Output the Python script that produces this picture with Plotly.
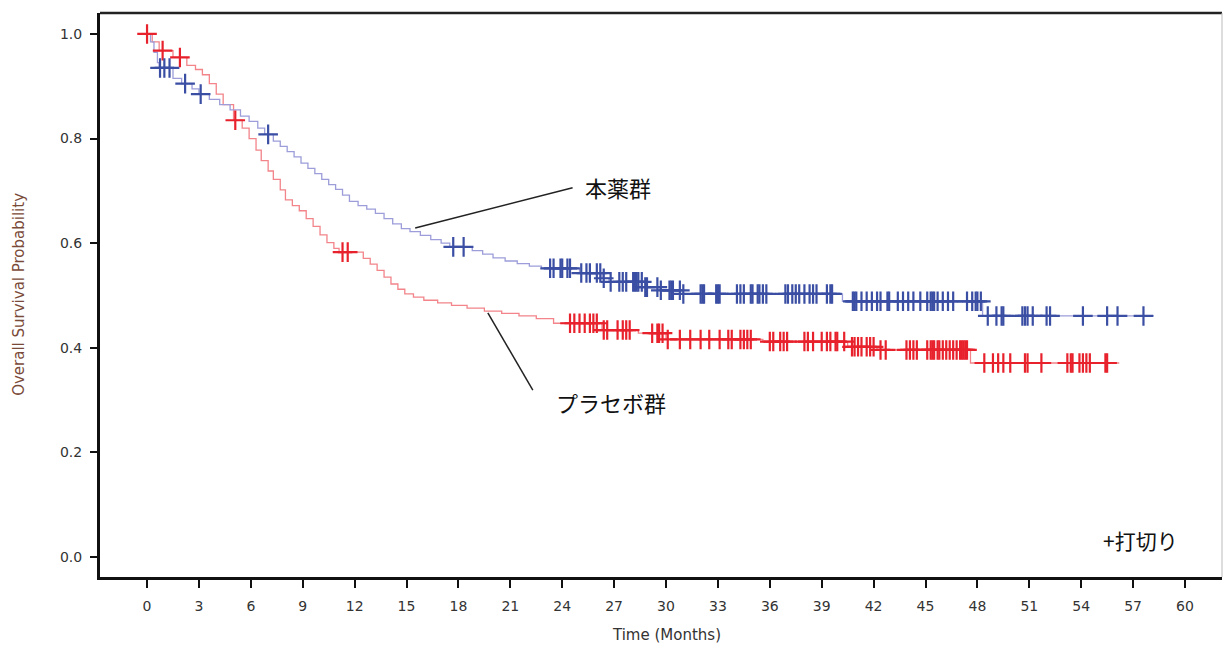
import numpy as np
import plotly.graph_objects as go

# ---- data (months, survival probability) ----
drug_t = [0, 0.2, 0.4, 0.6, 0.7, 1.5, 2.0, 2.6, 3.0, 3.6, 4.2, 4.8, 5.4, 5.9, 6.4, 6.8, 7.3, 7.7, 8.1, 8.5,
          8.9, 9.3, 9.7, 10.1, 10.5, 10.9, 11.3, 11.7, 12.2, 12.7, 13.2, 13.7, 14.2, 14.7, 15.2, 15.8, 16.4,
          17.0, 17.5, 18.8, 19.4, 20.0, 20.7, 21.4, 22.1, 22.8, 25.0, 26.3, 26.7, 28.8, 29.6, 31.0, 40.2,
          48.3, 58.2]
drug_s = [1.0, 0.985, 0.965, 0.945, 0.935, 0.915, 0.905, 0.895, 0.885, 0.875, 0.865, 0.855, 0.843, 0.833,
          0.82, 0.808, 0.795, 0.785, 0.775, 0.765, 0.753, 0.743, 0.733, 0.722, 0.712, 0.703, 0.692, 0.68,
          0.672, 0.665, 0.657, 0.647, 0.637, 0.628, 0.622, 0.615, 0.607, 0.6, 0.593, 0.586, 0.579, 0.572,
          0.566, 0.561, 0.556, 0.552, 0.543, 0.533, 0.526, 0.516, 0.51, 0.503, 0.489, 0.461, 0.461]
drug_cens = [0.75, 1.0, 1.3, 2.2, 3.1, 7.0, 17.7, 18.3, 23.3, 23.5, 23.9, 24.0, 24.3, 24.45, 25.1, 25.4,
             25.6, 26.0, 26.2, 26.4, 26.8, 27.3, 27.5, 27.7, 28.1, 28.2, 28.3, 28.4, 28.6, 28.8, 28.9, 29.5,
             29.7, 30.2, 30.3, 30.4, 30.8, 31.0, 32.0, 32.1, 32.2, 32.9, 33.0, 33.1, 34.1, 34.3, 34.5, 34.9,
             35.0, 35.3, 35.4, 35.6, 35.8, 36.9, 37.05, 37.3, 37.5, 37.7, 38.0, 38.3, 38.5, 38.7, 39.3, 39.5,
             39.6, 40.8, 40.9, 41.0, 41.3, 41.6, 41.9, 42.2, 42.4, 42.8, 42.9, 43.4, 43.7, 44.0, 44.3, 44.7,
             45.1, 45.3, 45.4, 45.5, 45.7, 46.0, 46.3, 46.6, 47.4, 47.7, 47.9, 48.0, 48.2, 48.6, 49.1, 49.4,
             49.5, 50.6, 50.75, 50.9, 51.2, 52.0, 52.2, 54.1, 55.5, 56.1, 57.6]

placebo_t = [0, 0.3, 0.7, 1.5, 2.3, 2.8, 3.2, 3.6, 4.0, 4.4, 5.0, 5.5, 5.9, 6.3, 6.6, 7.0, 7.3, 7.7, 8.0,
             8.4, 8.8, 9.2, 9.6, 10.0, 10.4, 10.8, 11.1, 12.5, 12.9, 13.3, 13.7, 14.1, 14.5, 14.9, 15.4,
             16.0, 16.8, 17.6, 18.5, 19.5, 20.5, 21.5, 22.5, 23.5, 26.3, 28.4, 30.0, 35.6, 40.5, 42.2,
             47.6, 56.2]
placebo_s = [1.0, 0.985, 0.968, 0.955, 0.94, 0.932, 0.922, 0.905, 0.885, 0.865, 0.835, 0.82, 0.80, 0.778,
             0.758, 0.738, 0.722, 0.702, 0.683, 0.672, 0.662, 0.647, 0.632, 0.616, 0.601, 0.59, 0.583,
             0.571, 0.56, 0.548, 0.535, 0.522, 0.512, 0.503, 0.497, 0.491, 0.486, 0.481, 0.476, 0.47,
             0.466, 0.461, 0.456, 0.447, 0.434, 0.428, 0.416, 0.412, 0.402, 0.396, 0.371, 0.371]
placebo_cens = [0, 0.9, 1.9, 5.1, 11.3, 11.6, 24.45, 24.7, 25.0, 25.3, 25.6, 25.8, 26.0, 26.4, 26.6, 27.2,
                27.5, 27.7, 27.9, 29.2, 29.5, 29.6, 29.8, 30.1, 30.8, 31.4, 32.0, 32.5, 33.1, 33.6, 33.8,
                34.3, 34.5, 34.7, 34.9, 36.0, 36.2, 36.6, 36.8, 37.0, 38.0, 38.2, 38.5, 39.0, 39.3, 39.5,
                39.8, 39.9, 40.3, 40.75, 40.9, 41.1, 41.3, 41.6, 41.8, 42.0, 42.4, 42.7, 43.9, 44.1, 44.3,
                44.5, 45.1, 45.3, 45.4, 45.5, 45.7, 45.8, 46.0, 46.2, 46.4, 46.6, 46.8, 47.0, 47.1, 47.2,
                47.3, 47.4, 48.4, 48.9, 49.2, 49.5, 49.9, 50.75, 50.9, 51.7, 53.2, 53.4, 53.5, 53.9, 54.1,
                54.3, 54.5, 55.4, 55.5]

x_ticks = list(range(0, 61, 3))
y_ticks = [0.0, 0.2, 0.4, 0.6, 0.8, 1.0]

label_drug = "本薬群"
label_placebo = "プラセボ群"
label_cens = "+打切り"
x_title = "Time (Months)"
y_title = "Overall Survival Probability"


def step_lookup(t, s, c):
    t = np.asarray(t)
    s = np.asarray(s)
    idx = np.searchsorted(t, np.asarray(c), side="right") - 1
    return s[np.clip(idx, 0, len(s) - 1)]


BLUE_LINE = "#9c9dd9"
BLUE_MARK = "#3a4ea3"
RED_LINE = "#f2848a"
RED_MARK = "#e8222c"

fig = go.Figure()
fig.add_trace(go.Scatter(x=placebo_t, y=placebo_s, mode="lines", line=dict(shape="hv", color=RED_LINE, width=1.3),
                         hoverinfo="skip"))
fig.add_trace(go.Scatter(x=drug_t, y=drug_s, mode="lines", line=dict(shape="hv", color=BLUE_LINE, width=1.3),
                         hoverinfo="skip"))
fig.add_trace(go.Scatter(x=placebo_cens, y=step_lookup(placebo_t, placebo_s, placebo_cens), mode="markers",
                         marker=dict(symbol="cross-thin", size=14, line=dict(color=RED_MARK, width=2.2))))
fig.add_trace(go.Scatter(x=drug_cens, y=step_lookup(drug_t, drug_s, drug_cens), mode="markers",
                         marker=dict(symbol="cross-thin", size=14, line=dict(color=BLUE_MARK, width=2.2))))

tick_font = dict(family="DejaVu Sans, Arial, sans-serif", size=14, color="#333333")

fig.update_layout(
    width=1231, height=645,
    margin=dict(l=100, r=9, t=13, b=68),
    plot_bgcolor="white", paper_bgcolor="white",
    showlegend=False,
    xaxis=dict(range=[-2.72, 62.14], tickvals=x_ticks, ticktext=[str(v) for v in x_ticks],
               ticks="outside", ticklen=8, tickwidth=2, tickcolor="#111",
               showline=True, linewidth=3, linecolor="#111", showgrid=False, zeroline=False,
               tickfont=tick_font, ticklabelstandoff=6),
    yaxis=dict(range=[-0.038, 1.040], tickvals=y_ticks, ticktext=[f"{v:.1f}" for v in y_ticks],
               ticks="outside", ticklen=7, tickwidth=2, tickcolor="#111",
               showline=True, linewidth=3, linecolor="#111", showgrid=False, zeroline=False,
               tickfont=tick_font, ticklabelstandoff=5),
    shapes=[
        dict(type="line", xref="paper", yref="paper", x0=0, x1=1, y0=1, y1=1, line=dict(color="#222", width=2.5)),
        dict(type="line", xref="paper", yref="paper", x0=1, x1=1, y0=0, y1=1, line=dict(color="#bbbbbb", width=1)),
        dict(type="line", xref="x", yref="y", x0=15.5, y0=0.629, x1=24.6, y1=0.706, line=dict(color="#222", width=1.5)),
        dict(type="line", xref="x", yref="y", x0=19.7, y0=0.467, x1=22.3, y1=0.319, line=dict(color="#222", width=1.5)),
    ],
    annotations=[
        dict(text=label_drug, x=27.2, y=0.707, xref="x", yref="y", showarrow=False,
             font=dict(family="Noto Sans CJK JP", size=22, color="#111")),
        dict(text=label_placebo, x=26.8, y=0.296, xref="x", yref="y", showarrow=False,
             font=dict(family="Noto Sans CJK JP", size=22, color="#111")),
        dict(text=label_cens, x=57.4, y=0.0325, xref="x", yref="y", showarrow=False,
             font=dict(family="Noto Sans CJK JP", size=21, color="#111")),
        dict(text=x_title, x=0.505, y=-0.103, xref="paper", yref="paper", showarrow=False,
             yanchor="middle", font=dict(family="DejaVu Sans, Arial, sans-serif", size=15, color="#333333")),
        dict(text=y_title, x=-0.0722, y=0.502, xref="paper", yref="paper", showarrow=False, textangle=-90,
             xanchor="center", yanchor="middle",
             font=dict(family="DejaVu Sans, Arial, sans-serif", size=15, color="#7a4a38")),
    ],
)

fig.write_html("out.html")
